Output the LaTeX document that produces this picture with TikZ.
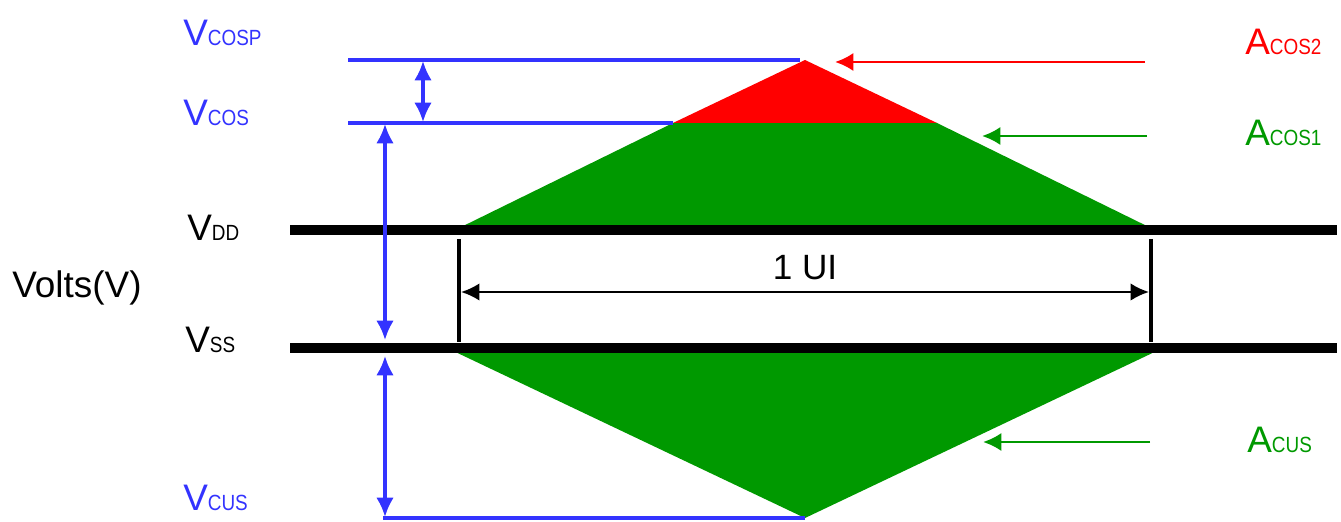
\documentclass[tikz,border=0pt]{standalone}
\usepackage{fontspec}
\setmainfont{Liberation Sans}
\usetikzlibrary{arrows.meta}
\usetikzlibrary{positioning}

\definecolor{sigblue}{RGB}{51,51,255}
\definecolor{eyegreen}{RGB}{0,153,0}
\definecolor{eyered}{RGB}{255,0,0}

\newcommand{\signame}[2]{#1{\fontsize{12.5}{12.5}\selectfont\scalebox{0.86}[1]{#2}}}

\tikzset{
  rail/.style={line width=5.4pt},
  level/.style={sigblue,line width=1.9pt},
  span/.style={sigblue,line width=1.8pt,{Latex[length=11pt,width=10pt]}-{Latex[length=11pt,width=10pt]}},
  pointer/.style={line width=1.7pt,-{Latex[length=10.5pt,width=10.5pt]}},
  lbl/.style={anchor=west,inner sep=0pt,font=\fontsize{21}{21}\selectfont}
}

\begin{document}
\begin{tikzpicture}
\useasboundingbox (0,0) rectangle (26.82,10.42);

% eye opening
\coordinate (top) at (16.1,9.22);
\coordinate (bot) at (16.1,0.06);
\coordinate (cosL) at (13.46,7.96);
\coordinate (cosR) at (18.74,7.96);
\fill[eyegreen] (9.1,5.82) -- (cosL) -- (cosR) -- (23.1,5.82) -- cycle;
\fill[eyered] (cosL) -- (top) -- (cosR) -- cycle;
\fill[eyegreen] (8.94,3.46) -- (bot) -- (23.26,3.46) -- cycle;

% supply rails
\coordinate (vddL) at (5.8,5.82);
\coordinate (vddR) at (26.74,5.82);
\coordinate (vssL) at (5.8,3.46);
\coordinate (vssR) at (26.74,3.46);
\draw[rail] (vddL) -- (vddR);
\draw[rail] (vssL) -- (vssR);

% 1 UI
\coordinate (uiLt) at (9.18,5.64);
\coordinate (uiLb) at (9.18,3.58);
\coordinate (uiRt) at (23.02,5.64);
\coordinate (uiRb) at (23.02,3.58);
\draw[line width=1.8pt] (uiLt) -- (uiLb);
\draw[line width=1.8pt] (uiRt) -- (uiRb);
\draw[line width=1.4pt,{Latex[length=10.5pt,width=10pt]}-{Latex[length=10.5pt,width=10pt]}] (9.22,4.58) -- (22.98,4.58);
\node[font=\fontsize{20}{20}\selectfont] (ui) at (16.1,5.06) {1 UI};

% blue levels
\coordinate (cospL) at (6.96,9.22);
\coordinate (cospR) at (16.0,9.22);
\coordinate (cosB) at (6.96,7.96);
\coordinate (cusL) at (7.66,0.06);
\draw[level] (cospL) -- (cospR);
\draw[level] (cosB) -- (cosL);
\draw[level] (cusL) -- (bot);
\draw[span] (8.46,9.2) -- (8.46,7.98);
\draw[span] (7.7,7.94) -- (7.7,3.62);
\draw[span] (7.7,3.3) -- (7.7,0.08);

% area pointers
\coordinate (a2s) at (22.9,9.18);
\coordinate (a2e) at (16.7,9.18);
\coordinate (a1s) at (22.94,7.7);
\coordinate (a1e) at (19.64,7.7);
\coordinate (aus) at (23.0,1.58);
\coordinate (aue) at (19.66,1.58);
\draw[pointer,eyered] (a2s) -- (a2e);
\draw[pointer,eyegreen] (a1s) -- (a1e);
\draw[pointer,eyegreen] (aus) -- (aue);

% labels
\node[lbl,text=sigblue] (vcosp) at (3.66,9.76) {\signame{V}{COSP}};
\node[lbl,text=sigblue] (vcos) at (3.66,8.16) {\signame{V}{COS}};
\node[lbl] (vdd) at (3.74,5.86) {\signame{V}{DD}};
\node[lbl] (vss) at (3.7,3.62) {\signame{V}{SS}};
\node[lbl,text=sigblue] (vcus) at (3.66,0.46) {\signame{V}{CUS}};
\node[lbl,font=\fontsize{21}{21}\selectfont] (volts) at (0.24,4.66) {Volts(V)};
\node[lbl,text=eyered] (acos2) at (24.9,9.58) {\signame{A}{COS2}};
\node[lbl,text=eyegreen] (acos1) at (24.9,7.76) {\signame{A}{COS1}};
\node[lbl,text=eyegreen] (acus) at (24.94,1.62) {\signame{A}{CUS}};
\end{tikzpicture}
\end{document}
